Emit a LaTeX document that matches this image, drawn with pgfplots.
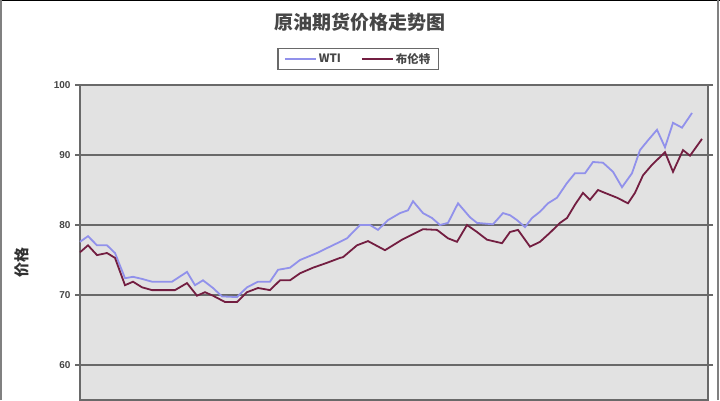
\documentclass[border=0pt]{standalone}
\usepackage{pgfplots}
\pgfplotsset{compat=1.18}
\usepackage{fontspec}
\setmainfont{Liberation Sans}
\newfontfamily\cjk{Noto Sans CJK SC}
\definecolor{plotbg}{RGB}{226,226,226}
\definecolor{gridc}{RGB}{105,105,105}
\definecolor{wti}{RGB}{145,145,235}
\definecolor{brent}{RGB}{115,30,65}
\definecolor{txt}{RGB}{70,70,70}

% x in pixel positions of the reference, y in price
\pgfplotstableread{
x y
80 77.6
88 78.4
97 77.1
107 77.1
115 76.0
125 72.4
133 72.6
142 72.3
152 71.9
172 71.9
187 73.3
195 71.4
203 72.1
213 71.0
222 69.8
237 69.7
247 71.1
258 71.9
270 71.9
278 73.6
290 73.9
300 75.0
317 76.0
327 76.7
340 77.6
347 78.1
360 80.0
370 80.0
378 79.3
388 80.7
400 81.7
408 82.1
413 83.4
423 81.7
432 81.0
440 80.0
448 80.3
458 83.1
470 81.1
477 80.3
493 80.1
503 81.7
510 81.4
517 80.7
525 79.7
532 81.0
540 81.9
548 83.1
557 83.9
567 86.0
575 87.4
585 87.4
593 89.0
603 88.9
613 87.6
622 85.4
632 87.4
640 90.7
648 92.1
657 93.6
665 91.1
673 94.6
682 93.9
692 96.0
}\wtidata

\pgfplotstableread{
x y
80 76.1
88 77.1
97 75.7
107 76.0
115 75.3
125 71.4
133 71.9
142 71.1
152 70.7
175 70.7
187 71.7
197 69.9
205 70.4
213 69.9
225 69.0
237 69.0
247 70.4
258 71.0
270 70.7
280 72.1
290 72.1
300 73.1
313 73.9
327 74.6
340 75.3
343 75.4
357 77.1
368 77.7
385 76.4
402 77.9
423 79.4
437 79.3
448 78.1
457 77.6
467 80.0
477 79.0
487 77.9
502 77.4
510 79.0
518 79.3
530 76.9
540 77.6
550 78.9
560 80.3
567 81.0
575 82.9
583 84.6
590 83.6
598 85.0
603 84.7
617 83.9
628 83.1
635 84.6
643 87.1
652 88.6
665 90.4
673 87.6
683 90.7
690 89.9
702 92.3
}\brentdata

\begin{document}
\begin{tikzpicture}[x=1pt,y=1pt]
\useasboundingbox (0,0) rectangle (720,400);
\fill[white] (0,0) rectangle (720,400);
\begin{axis}[
    at={(80,0)}, anchor=south west,
    scale only axis,
    width=628pt, height=315pt,
    xmin=80, xmax=708,
    ymin=55, ymax=100,
    xtick=\empty,
    ytick={60,70,80,90,100},
    ymajorgrids,
    grid style={gridc, line width=2pt},
    axis background/.style={fill=plotbg},
    axis line style={gridc, line width=1.5pt},
    y tick style={gridc, line width=1.2pt},
    tick align=outside,
    major tick length=5pt,
    yticklabel style={font=\fontsize{10}{11}\selectfont\bfseries, text=txt, xshift=-1pt},
    /pgf/number format/assume math mode=true,
    legend columns=2,
    legend style={at={(0.443,1.083)}, anchor=center, draw=gridc, line width=1.2pt,
        font=\fontsize{11.5}{12}\selectfont\cjk\bfseries, text=txt, fill=white,
        inner xsep=6pt, inner ysep=3pt,
        /tikz/every even column/.append style={column sep=18pt}},
    legend image post style={line width=1.5pt},
    legend image code/.code={\draw[#1] (0cm,0cm) -- (1.1cm,0cm);},
    clip=false,
]
\addplot[wti, line width=1.8pt] table[x=x, y=y] {\wtidata};
\addlegendentry{WTI}
\addplot[brent, line width=1.8pt] table[x=x, y=y] {\brentdata};
\addlegendentry{布伦特}
\end{axis}
\node[font=\cjk\bfseries\fontsize{19}{20}\selectfont, text={rgb,255:red,70;green,70;blue,70}] at (360,378) {原油期货价格走势图};
\node[font=\cjk\bfseries\fontsize{15}{16}\selectfont, text={rgb,255:red,50;green,50;blue,50}, rotate=90] at (22,138) {价格};
\draw[black, line width=3pt] (0,400) -- (720,400);
\draw[gray, line width=2pt] (1,0) -- (1,400);
\draw[gray, line width=2pt] (718,0) -- (718,400);
\end{tikzpicture}
\end{document}
